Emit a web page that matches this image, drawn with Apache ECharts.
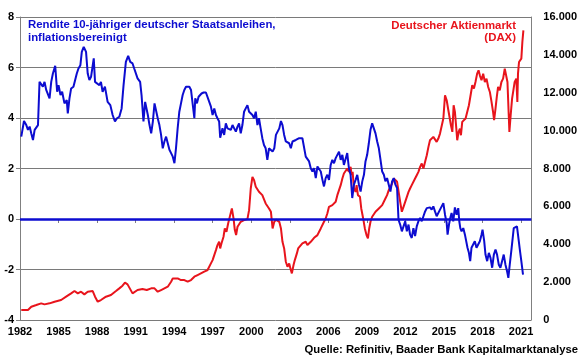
<!DOCTYPE html>
<html>
<head>
<meta charset="utf-8">
<script src="https://cdn.jsdelivr.net/npm/echarts@6/dist/echarts.min.js"></script>
<style>html,body{margin:0;padding:0;background:#fff;}#c{width:580px;height:359px;}</style>
</head>
<body>
<div id="c"></div>
<script>
// Real yield of 10y German government bonds (left axis, %)
const yieldYears = [1982.10,1982.31,1982.49,1982.62,1982.75,1982.88,1983.01,1983.14,1983.27,1983.40,1983.52,1983.65,1983.78,1983.91,1984.04,1984.30,1984.43,1984.56,1984.74,1984.89,1985.00,1985.15,1985.28,1985.46,1985.64,1985.72,1985.85,1985.98,1986.16,1986.29,1986.42,1986.55,1986.70,1986.81,1986.96,1987.14,1987.27,1987.40,1987.53,1987.74,1987.84,1987.99,1988.18,1988.30,1988.43,1988.61,1988.82,1989.03,1989.21,1989.39,1989.55,1989.73,1989.91,1990.06,1990.24,1990.42,1990.58,1990.76,1990.89,1991.02,1991.15,1991.35,1991.46,1991.61,1991.74,1991.87,
1991.95,1992.08,1992.21,1992.34,1992.47,1992.59,1992.72,1992.85,1992.98,1993.11,1993.24,1993.37,1993.50,1993.63,1993.76,1993.89,1994.02,1994.14,1994.27,1994.40,1994.53,1994.66,1994.79,1994.92,1995.05,1995.18,1995.31,1995.44,1995.57,1995.64,1995.77,1995.90,1996.03,1996.13,1996.29,1996.47,1996.60,1996.73,1996.86,1996.99,1997.12,1997.25,1997.37,1997.50,1997.58,1997.76,1997.89,1998.02,1998.15,1998.28,1998.41,1998.54,1998.67,1998.80,1998.93,1999.05,1999.18,1999.31,1999.44,1999.57,1999.70,1999.83,1999.96,2000.09,2000.22,2000.35,2000.48,2000.60,2000.73,2000.86,2000.99,2001.12,2001.25,2001.38,
2001.53,2001.66,2001.79,2001.92,2002.05,2002.18,2002.31,2002.43,2002.56,2002.69,2002.82,2002.95,2003.08,2003.21,2003.34,2003.47,2003.60,2003.73,2003.86,2003.98,2004.11,2004.24,2004.37,2004.50,2004.63,2004.76,2004.89,2005.02,2005.15,2005.28,2005.41,2005.54,2005.66,2005.79,2005.92,2006.05,2006.18,2006.31,2006.44,2006.57,2006.70,2006.83,2006.96,2007.09,2007.21,2007.34,2007.47,2007.60,2007.73,2007.86,2007.99,2008.12,2008.25,2008.38,2008.51,2008.64,2008.77,2008.89,2009.02,2009.15,2009.28,2009.41,2009.54,2009.67,2009.80,2009.93,2010.06,2010.19,2010.32,2010.44,2010.57,2010.70,2010.83,2010.96,2011.09,2011.22,2011.35,
2011.46,2011.59,2011.72,2011.85,2011.98,2012.11,2012.24,2012.36,2012.49,2012.62,2012.75,2012.88,2013.01,2013.14,2013.27,2013.40,2013.53,2013.66,2013.79,2013.91,2014.04,2014.17,2014.30,2014.43,2014.56,2014.69,2014.82,2014.95,2015.08,2015.21,2015.28,2015.39,2015.49,2015.59,2015.72,2015.85,2015.98,2016.11,2016.19,2016.27,2016.37,2016.50,2016.63,2016.76,2016.83,2016.94,2017.04,2017.14,2017.27,2017.40,2017.53,2017.66,2017.79,2017.92,2018.00,2018.13,2018.23,2018.36,2018.49,2018.62,2018.75,2018.88,2019.01,2019.13,2019.26,2019.39,2019.52,2019.65,2019.78,2019.91,2020.01,2020.12,2020.25,2020.32,2020.43,2020.56,2020.68,2020.81,2020.92,2021.02,2021.15];
const yieldValues = [3.26,3.88,3.72,3.53,3.66,3.39,3.13,3.53,3.46,3.72,5.43,5.50,5.24,5.43,5.11,4.78,5.43,5.76,6.07,5.04,5.30,4.91,5.04,4.58,4.71,4.18,4.78,5.17,5.24,5.24,5.76,5.96,6.09,6.62,6.82,6.62,5.76,5.50,5.63,6.36,5.43,5.50,5.30,5.43,5.04,5.24,4.64,4.51,4.12,3.86,3.99,4.05,4.38,5.30,6.22,6.46,6.22,6.16,5.96,5.89,5.57,5.43,4.91,3.86,4.64,4.70,
4.12,3.72,3.39,3.86,4.58,4.58,3.99,3.72,3.33,2.80,3.07,3.26,3.00,2.74,2.61,2.47,2.21,2.80,3.59,4.25,4.58,4.91,5.11,5.24,5.30,5.24,5.11,5.17,3.99,4.78,4.58,4.84,4.91,4.97,5.01,5.01,4.97,4.64,4.45,4.12,4.38,4.12,3.99,3.86,3.22,3.59,3.33,3.79,3.59,3.66,3.53,3.72,3.59,3.46,3.66,3.79,3.39,3.72,4.25,4.38,4.51,4.25,4.32,4.12,3.99,4.25,3.72,3.99,3.59,3.20,2.93,2.80,2.34,2.80,
2.87,2.67,2.80,3.33,3.39,3.59,3.88,3.72,3.33,3.07,3.13,3.00,2.80,3.07,3.00,3.13,3.07,3.20,3.13,3.20,3.20,2.47,2.41,2.28,2.01,1.88,2.01,1.62,2.08,2.01,1.88,1.55,1.29,1.62,1.75,1.55,2.14,2.34,2.21,2.41,2.54,2.67,2.34,2.54,2.14,2.21,2.61,2.01,1.75,0.83,1.36,1.55,1.75,1.36,1.09,1.49,1.75,2.28,2.54,3.00,3.53,3.79,3.59,3.39,3.07,2.80,2.34,1.88,1.75,1.49,1.62,1.36,1.09,1.49,1.62,1.36,1.22,
-0.03,-0.22,-0.49,-0.29,-0.09,-0.49,-0.22,-0.62,-0.75,-0.36,-0.68,-0.29,-0.09,0.04,-0.09,0.11,0.30,0.43,0.50,0.46,0.37,0.50,0.30,0.11,0.17,0.37,0.43,0.63,0.17,-0.16,-0.62,-0.22,0.04,0.24,-0.09,0.46,0.17,0.43,-0.09,-0.36,-0.49,-0.36,-0.62,-0.68,-1.14,-1.34,-1.67,-1.14,-1.01,-0.88,-1.14,-1.01,-0.88,-0.62,-0.42,-0.88,-1.41,-1.67,-1.34,-1.54,-1.93,-1.41,-1.21,-1.41,-1.80,-1.93,-1.67,-1.41,-1.80,-2.07,-2.33,-1.80,-1.21,-1.14,-0.36,-0.29,-0.29,-0.36,-1.28,-1.67,-2.20];

// DAX (right axis, index points)
const daxYears = [1982.10,1982.62,1982.88,1983.27,1983.65,1983.91,1984.30,1984.69,1985.20,1985.59,1985.98,1986.24,1986.50,1986.75,1987.01,1987.27,1987.66,1987.84,1988.05,1988.30,1988.69,1989.08,1989.47,1989.73,1989.98,1990.17,1990.37,1990.50,1990.76,1991.15,1991.53,1991.87,
1991.95,1992.21,1992.47,1992.72,1992.98,1993.24,1993.50,1993.76,1993.89,1994.02,1994.27,1994.53,1994.79,1995.05,1995.31,1995.57,1995.82,1996.08,1996.34,1996.60,1996.73,1996.86,1996.99,1997.12,1997.25,1997.37,1997.50,1997.58,1997.68,1997.84,1997.94,1998.07,1998.20,1998.36,1998.49,1998.62,1998.72,1998.82,1998.93,1999.05,1999.18,1999.31,1999.44,1999.57,1999.70,1999.83,1999.96,2000.09,2000.22,2000.35,2000.48,2000.60,2000.73,2000.86,2000.99,2001.12,2001.25,2001.38,
2001.53,2001.66,2001.79,2001.92,2002.05,2002.18,2002.31,2002.43,2002.56,2002.69,2002.82,2002.95,2003.08,2003.16,2003.29,2003.39,2003.55,2003.65,2003.80,2003.98,2004.11,2004.24,2004.37,2004.50,2004.63,2004.76,2004.89,2005.02,2005.15,2005.28,2005.41,2005.54,2005.66,2005.79,2005.92,2006.05,2006.18,2006.31,2006.44,2006.57,2006.70,2006.83,2006.96,2007.09,2007.21,2007.34,2007.47,2007.60,2007.73,2007.81,2007.89,2007.99,2008.12,2008.20,2008.30,2008.46,2008.56,2008.71,2008.84,2008.97,2009.08,2009.18,2009.28,2009.41,2009.54,2009.67,2009.80,2009.93,2010.06,2010.19,2010.32,2010.44,2010.57,2010.70,2010.83,2010.96,2011.09,2011.22,2011.35,
2011.46,2011.59,2011.72,2011.85,2011.98,2012.11,2012.24,2012.36,2012.49,2012.62,2012.75,2012.88,2013.01,2013.14,2013.27,2013.40,2013.53,2013.66,2013.79,2013.91,2014.04,2014.17,2014.30,2014.43,2014.56,2014.69,2014.82,2014.95,2015.08,2015.21,2015.34,2015.47,2015.54,2015.65,2015.75,2015.85,2015.96,2016.03,2016.14,2016.24,2016.32,2016.42,2016.55,2016.68,2016.81,2016.94,2017.07,2017.20,2017.33,2017.45,2017.58,2017.69,2017.79,2017.92,2018.05,2018.18,2018.31,2018.44,2018.57,2018.70,2018.82,2018.90,2019.01,2019.11,2019.21,2019.34,2019.47,2019.60,2019.73,2019.86,2019.94,2020.04,2020.09,2020.19,2020.30,2020.40,2020.50,2020.63,2020.71,2020.76,2020.84,2020.94,2021.02,2021.10,2021.18];
const daxValues = [527,527,703,791,879,826,879,967,1055,1231,1406,1529,1406,1494,1354,1494,1529,1231,967,1055,1231,1319,1529,1670,1811,1969,1881,1934,1406,1582,1635,1582,
1582,1670,1670,1494,1582,1670,1758,2022,2198,2110,2198,2110,2110,2022,2110,2285,2373,2461,2549,2637,2725,2989,3164,3428,3692,3956,4131,3780,4043,4395,4835,4659,5098,5538,5889,5362,4747,4483,4922,5010,5186,5098,5274,5186,5327,5801,6944,7559,7384,7032,7120,6768,6856,6593,6505,6153,6065,5889,
5714,4835,5186,5300,5362,5186,4835,4131,3780,3076,2813,2989,2637,2461,2901,3164,3516,3780,3868,4043,3956,4131,3956,3868,4131,4219,4342,4395,4483,4659,4835,4922,5186,5362,5626,5977,5889,6065,6153,6241,6593,6856,7120,7472,7735,7823,7999,7823,8087,7647,7823,6944,6768,7120,6593,6505,5889,5362,4835,4483,4307,4835,5186,5450,5538,5714,5626,5889,5977,6065,6065,6417,6593,6856,7032,7208,7472,7384,7296,
7296,6241,5714,5977,6241,6505,6768,6944,7120,7208,7472,7647,7823,8087,8263,7999,8351,8702,9142,9493,9581,9669,9757,9405,9581,9845,9933,10636,11867,11603,11075,10988,10284,9933,11339,10988,10109,9493,9933,10109,9757,10460,10548,10636,10724,11339,11867,12394,12218,12570,13009,13185,12921,12658,13009,12570,12746,12306,12042,11515,10988,10548,11163,11779,12306,12130,12570,12746,13273,13185,12570,10812,9933,10812,11691,12130,12570,12746,11515,13009,13625,13625,13800,14679,15295];

const xTickYears = [1982,1985,1988,1991,1994,1997,2000,2003,2006,2009,2012,2015,2018,2021];
const leftTicks = [-4,-2,0,2,4,6,8];
const rightTicks = [0,2000,4000,6000,8000,10000,12000,14000,16000];

const BASE = 1982;
const BLUE = '#0c0cd0';
const RED = '#e8141c';
const FONT = '"Liberation Sans", Arial, sans-serif';

const yieldData = yieldYears.map((y, i) => [y - BASE, yieldValues[i]]);
const daxData = daxYears.map((y, i) => [y - BASE, daxValues[i]]);

const chart = echarts.init(document.getElementById('c'), null, {renderer: 'canvas'});
chart.setOption({
  animation: false,
  backgroundColor: '#fff',
  grid: {left: 20, right: 47, top: 17, bottom: 39, containLabel: false},
  xAxis: {
    type: 'value', min: 0, max: 39.8, interval: 3,
    axisLine: {show: true, lineStyle: {color: '#808080', width: 1}},
    axisTick: {show: true, length: 4, lineStyle: {color: '#808080'}},
    splitLine: {show: false},
    axisLabel: {
      color: '#000', fontFamily: FONT, fontWeight: 'bold', fontSize: 11, margin: 6,
      formatter: v => { const y = Math.round(v + BASE); return xTickYears.includes(y) && Math.abs(v + BASE - y) < 1e-6 ? String(y) : ''; }
    }
  },
  yAxis: [
    {
      type: 'value', min: leftTicks[0], max: leftTicks[leftTicks.length - 1], interval: 2, position: 'left',
      axisLine: {show: true, lineStyle: {color: '#808080', width: 1}},
      axisTick: {show: true, length: 4, lineStyle: {color: '#808080'}},
      splitLine: {show: true, lineStyle: {color: '#7a7a7a', width: 1}},
      axisLabel: {color: '#000', fontFamily: FONT, fontWeight: 'bold', fontSize: 11, margin: 6}
    },
    {
      type: 'value', min: rightTicks[0], max: rightTicks[rightTicks.length - 1], interval: 2000, position: 'right',
      axisLine: {show: true, lineStyle: {color: '#808080', width: 1}},
      axisTick: {show: false},
      splitLine: {show: false},
      axisLabel: {
        color: '#000', fontFamily: FONT, fontWeight: 'bold', fontSize: 11, margin: 12,
        formatter: v => v === 0 ? '0' : (v / 1000).toFixed(0) + '.000'
      }
    }
  ],
  graphic: [
    {type: 'text', left: 28, top: 19, style: {text: 'Rendite 10-jähriger deutscher Staatsanleihen,\ninflationsbereinigt', fill: BLUE, font: '700 11.4px ' + FONT, lineHeight: 12.5}},
    {type: 'text', right: 64, top: 20, style: {text: 'Deutscher Aktienmarkt', fill: RED, font: '700 11.4px ' + FONT}},
    {type: 'text', right: 64, top: 32.5, style: {text: '(DAX)', fill: RED, font: '700 11.4px ' + FONT}},
    {type: 'text', right: 2, top: 344, style: {text: 'Quelle: Refinitiv, Baader Bank Kapitalmarktanalyse', fill: '#000', font: '700 11.3px ' + FONT}}
  ],
  series: [
    {
      name: 'DAX', type: 'line', yAxisIndex: 1, data: daxData, showSymbol: false,
      lineStyle: {color: RED, width: 2}, itemStyle: {color: RED}, z: 2
    },
    {
      name: 'Rendite', type: 'line', yAxisIndex: 0, data: yieldData, showSymbol: false,
      lineStyle: {color: BLUE, width: 2}, itemStyle: {color: BLUE}, z: 3,
      markLine: {silent: true, symbol: 'none', label: {show: false}, lineStyle: {color: BLUE, width: 2.6, type: 'solid'}, data: [{yAxis: 0}]}
    }
  ]
});
</script>
</body>
</html>
